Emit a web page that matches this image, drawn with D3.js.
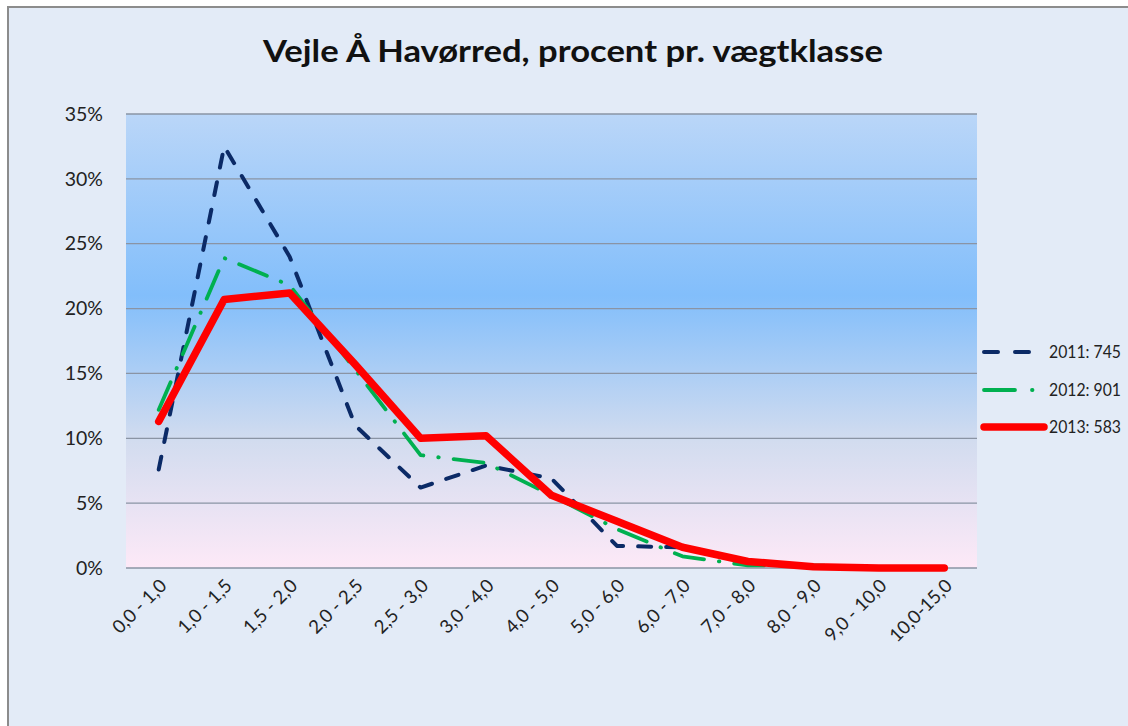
<!DOCTYPE html>
<html><head><meta charset="utf-8">
<script src="https://cdn.jsdelivr.net/npm/d3@7"></script>
<style>body{margin:0;background:#fff;} svg{display:block;}</style>
</head><body>
<script>
const categories = ["0,0 - 1,0","1,0 - 1,5","1,5 - 2,0","2,0 - 2,5","2,5 - 3,0","3,0 - 4,0","4,0 - 5,0","5,0 - 6,0","6,0 - 7,0","7,0 - 8,0","8,0 - 9,0","9,0 - 10,0","10,0-15,0"];
const s2011 = [7.6, 32.5, 24.0, 11.0, 6.2, 7.9, 6.9, 1.7, 1.6, 0.4, 0.1, 0, 0];
const s2012 = [12.2, 23.9, 21.8, 15.3, 8.7, 8.1, 5.6, 3.0, 0.9, 0.2, 0.2, 0.05, 0];
const s2013 = [11.3, 20.7, 21.2, 15.7, 10.0, 10.2, 5.6, 3.6, 1.6, 0.5, 0.1, 0, 0];
const seriesNames = ["2011: 745", "2012: 901", "2013: 583"];
const yTicks = [0, 5, 10, 15, 20, 25, 30, 35];
const titleText = "Vejle Å Havørred, procent pr. vægtklasse";

const W = 1128, H = 726;
const font = "Lato, 'Open Sans', sans-serif";
const svg = d3.select("body").append("svg").attr("width", W).attr("height", H);

// chart background + border
svg.append("rect").attr("x", 8).attr("y", 7).attr("width", W + 10).attr("height", H + 10)
  .attr("fill", "#e3ebf7").attr("stroke", "#8c8c8c").attr("stroke-width", 2);

const plot = {left: 126, right: 977, top: 114, bottom: 568};
const x = d3.scaleBand().domain(categories).range([plot.left, plot.right]);
const y = d3.scaleLinear().domain([0, 35]).range([plot.bottom, plot.top]);

const defs = svg.append("defs");
const grad = defs.append("linearGradient").attr("id", "bg").attr("x1", 0).attr("y1", 0).attr("x2", 0).attr("y2", 1);
[[0, "#bad6f8"], [0.4, "#82befb"], [0.72, "#d2dcef"], [1, "#fde9f7"]].forEach(([o, c]) =>
  grad.append("stop").attr("offset", o).attr("stop-color", c));

svg.append("rect").attr("x", plot.left).attr("y", plot.top)
  .attr("width", plot.right - plot.left).attr("height", plot.bottom - plot.top)
  .attr("fill", "url(#bg)");

// gridlines
svg.append("g").selectAll("line").data(yTicks).join("line")
  .attr("x1", plot.left).attr("x2", plot.right)
  .attr("y1", d => y(d)).attr("y2", d => y(d))
  .attr("stroke", "#8a94a4").attr("stroke-width", 1.3);

// y axis labels
const yAxis = d3.axisLeft(y).tickValues(yTicks).tickFormat(d => d + "%").tickSize(0).tickPadding(23);
const gy = svg.append("g").attr("transform", `translate(${plot.left},0)`).call(yAxis);
gy.select(".domain").remove();
gy.selectAll("text").attr("font-family", font).attr("font-size", 19.5).attr("fill", "#222");

// x axis labels
const xAxis = d3.axisBottom(x).tickSize(0).tickPadding(0);
const gx = svg.append("g").attr("transform", `translate(0,${plot.bottom})`).call(xAxis);
gx.select(".domain").remove();
gx.selectAll("text")
  .attr("font-family", font).attr("font-size", 18.5).attr("fill", "#222")
  .attr("text-anchor", "end").attr("dy", 0)
  .attr("transform", "translate(9,19) rotate(-45)");

// lines
const line = d3.line().x((d, i) => x(categories[i]) + x.bandwidth() / 2).y(d => y(d));
const styles = [
  {data: s2011, color: "#0b2a66", width: 4, dash: "13,15", legDash: "14,17", legEnd: 1029},
  {data: s2012, color: "#00b050", width: 3.8, dash: "30,15,0.5,15", legDash: "31,17,0.5,100", legEnd: 1034},
  {data: s2013, color: "#ff0000", width: 7.5, dash: null, legDash: null, legEnd: 1044}
];
styles.forEach(s => {
  svg.append("path").datum(s.data).attr("d", line)
    .attr("fill", "none").attr("stroke", s.color).attr("stroke-width", s.width)
    .attr("stroke-dasharray", s.dash).attr("stroke-linecap", "round").attr("stroke-linejoin", "round");
});

// legend
const legY = [352, 390, 427];
styles.forEach((s, i) => {
  const g = svg.append("g").attr("transform", `translate(0,${legY[i]})`);
  g.append("line").attr("x1", 984).attr("x2", s.legEnd).attr("y1", 0).attr("y2", 0)
    .attr("stroke", s.color).attr("stroke-width", s.width)
    .attr("stroke-dasharray", s.legDash).attr("stroke-linecap", "round");
  g.append("text").attr("x", 1049).attr("y", 6).text(seriesNames[i])
    .attr("font-family", font).attr("font-size", 17).attr("fill", "#222")
    .attr("textLength", 72).attr("lengthAdjust", "spacingAndGlyphs");
});

// title
svg.append("text").attr("x", 573).attr("y", 62).attr("text-anchor", "middle")
  .attr("font-family", font).attr("font-weight", "bold").attr("font-size", 31)
  .attr("fill", "#111").attr("textLength", 620).attr("lengthAdjust", "spacingAndGlyphs")
  .text(titleText);
</script>
</body></html>
